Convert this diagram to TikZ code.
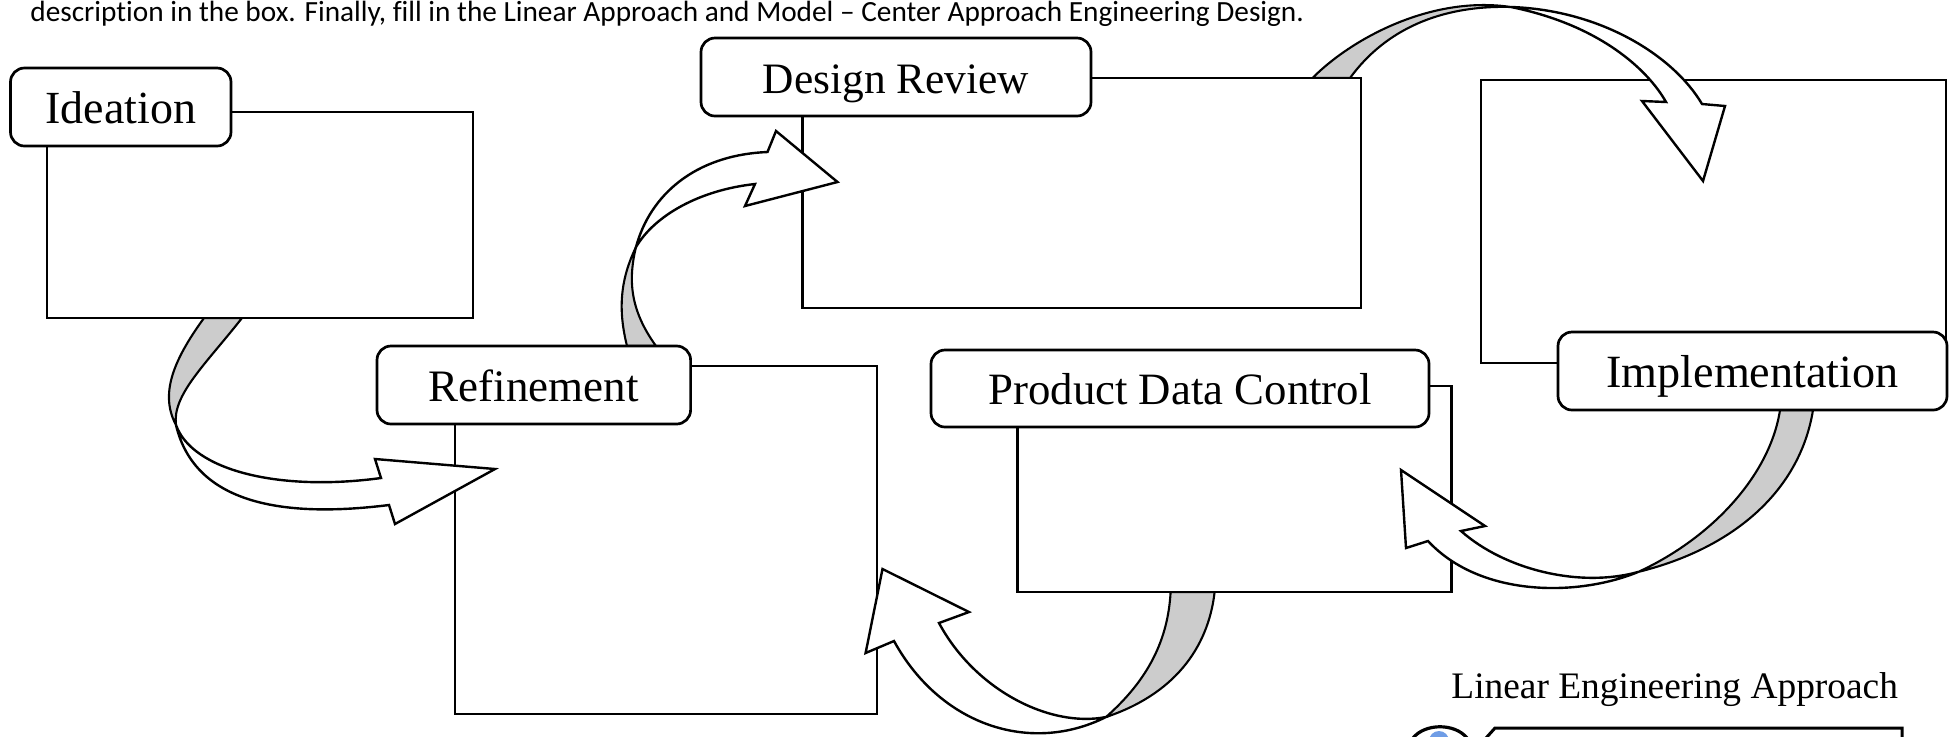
\documentclass[tikz,border=0pt]{standalone}
\usepackage{fontspec}
\setmainfont{Liberation Serif}
\newfontfamily\headfont[Ligatures=NoCommon]{Carlito}
\definecolor{bandgrey}{HTML}{CCCCCC}
\definecolor{irisblue}{HTML}{6F9DE6}
\tikzset{
  bodybox/.style={draw=black,fill=white,line width=1.3pt,rectangle,inner sep=0pt},
  titlebox/.style={draw=black,fill=white,line width=1.35pt,rectangle,rounded corners=7pt,inner sep=0pt,
    text height=16pt,text depth=0pt,align=center},
  band/.style={draw=black,fill=bandgrey,line width=1.05pt,line join=round},
  blockarrow/.style={draw=black,fill=white,line width=1.2pt,line join=miter},
  plainlabel/.style={inner sep=0pt,anchor=base west}
}
\newcommand{\fsz}[1]{\fontsize{#1}{24}\selectfont}
\begin{document}
\begin{tikzpicture}[x=0.5pt,y=-0.5pt]
\useasboundingbox (0,0) rectangle (1958,736);
\fill[white] (0,0) rectangle (1958,736);

\node[plainlabel,font=\headfont\fsz{14.65}] (head) at (30,21) {description in the box. Finally, fill in the Linear Approach and Model – Center Approach Engineering Design.};

% named ends of the block arrows
\coordinate (a1o) at (204,318);
\coordinate (a1i) at (242,318);
\coordinate (a1x) at (176,425);
\coordinate (a1tip) at (495,469);
\coordinate (a2o) at (627,346);
\coordinate (a2i) at (656,346);
\coordinate (a2x) at (636,247);
\coordinate (a2tip) at (837.5,182);
\coordinate (a3o) at (1312.5,78);
\coordinate (a3i) at (1350,78);
\coordinate (a3x) at (1511,7);
\coordinate (a3tip) at (1703,181);
\coordinate (a4i) at (1780,410);
\coordinate (a4o) at (1813,410);
\coordinate (a4x) at (1638,572);
\coordinate (a4tip) at (1401,470);
\coordinate (a5i) at (1170.6,592);
\coordinate (a5o) at (1214.6,592);
\coordinate (a5x) at (1106,717);
\coordinate (a5tip) at (882.5,569);

\node[bodybox,minimum width=232.5pt,minimum height=141.5pt] (implbody) at (1713.5,221.5) {};
\node[bodybox,minimum width=211pt,minimum height=174pt] (refbody) at (666,540) {};

% Ideation -> Refinement
\draw[band] (a1o) .. controls (172,362) and (160,395) .. (a1x) .. controls (172,395) and (205,365) .. (a1i) -- cycle;
\draw[blockarrow] (a1x) .. controls (192,470) and (278,492) .. (381,478) -- (375,459) -- (a1tip) -- (395,524) -- (389,505) .. controls (285,518) and (195,505) .. (a1x) -- cycle;
% Design Review -> Implementation
\draw[band] (a3o) .. controls (1350,40) and (1430,-5) .. (a3x) .. controls (1440,5) and (1385,30) .. (a3i) -- cycle;
\draw[blockarrow] (a3x) .. controls (1600,10) and (1673,55) .. (1702,104) -- (1725,106) -- (a3tip) -- (1642,101) -- (1666,102) .. controls (1648,70) and (1600,25) .. (a3x) -- cycle;
% Product Data Control -> Refinement
\draw[band] (a5o) .. controls (1208,650) and (1172,695) .. (a5x) .. controls (1148,680) and (1168,640) .. (a5i) -- cycle;
\draw[blockarrow] (a5x) .. controls (1050,728) and (975,690) .. (939,623) -- (969,612) -- (a5tip) -- (865.6,653) -- (894,641) .. controls (940,725) and (1030,755) .. (a5x) -- cycle;

\node[bodybox,minimum width=213pt,minimum height=103pt] (ideabody) at (260,215) {};
\node[bodybox,minimum width=279.25pt,minimum height=115pt] (revbody) at (1081.75,193) {};
\node[bodybox,minimum width=217pt,minimum height=103pt] (pdcbody) at (1234.25,489) {};

% Refinement -> Design Review
\draw[band] (a2o) .. controls (618,310) and (620,280) .. (a2x) .. controls (628,280) and (630,310) .. (a2i) -- cycle;
\draw[blockarrow] (a2x) .. controls (650,195) and (695,155) .. (767.5,152) -- (776,131) -- (a2tip) -- (745,206) -- (755,184) .. controls (700,190) and (655,215) .. (a2x) -- cycle;
% Implementation -> Product Data Control
\draw[band] (a4o) .. controls (1800,490) and (1735,548) .. (a4x) .. controls (1712,538) and (1770,475) .. (a4i) -- cycle;
\draw[blockarrow] (a4x) .. controls (1580,588) and (1505,570) .. (1461,531) -- (1485,526) -- (a4tip) -- (1406,548) -- (1428,541) .. controls (1480,597) and (1577,597) .. (a4x) -- cycle;

\node[titlebox,font=\fsz{23},minimum width=110.25pt,minimum height=39pt] (idea) at (120.75,107) {Ideation};
\node[titlebox,font=\fsz{21.7},minimum width=195pt,minimum height=39pt] (rev) at (896,77) {Design Review};
\node[titlebox,font=\fsz{23.1},minimum width=194.5pt,minimum height=39pt] (impl) at (1752.5,371) {Implementation};
\node[titlebox,font=\fsz{22.5},minimum width=156.8pt,minimum height=39pt] (ref) at (533.8,385) {Refinement};
\node[titlebox,font=\fsz{22.4},minimum width=249pt,minimum height=38.5pt] (pdc) at (1180,388.5) {Product Data Control};

\node[plainlabel,font=\fsz{18.7}] (linear) at (1451,698) {Linear Engineering Approach};

% partly visible eye and box at the bottom edge
\coordinate (lidl) at (1413,738);
\coordinate (lidr) at (1467,738);
\fill[irisblue] (1439,741) circle (10);
\draw[line width=1.6pt,line cap=round] (lidl) .. controls (1425,723) and (1455,723) .. (lidr);
\coordinate (lbl) at (1486,738);
\coordinate (lbc) at (1495,728);
\coordinate (lbr) at (1902,728);
\coordinate (lbe) at (1902,740);
\draw[line width=1.5pt,line join=miter] (lbl) -- (lbc) -- (lbr) -- (lbe);
\end{tikzpicture}
\end{document}
